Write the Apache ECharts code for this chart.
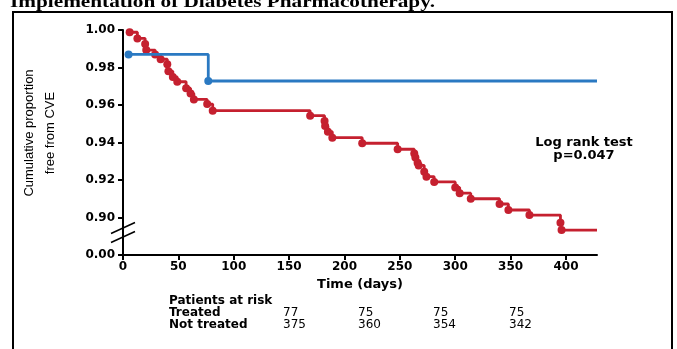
<!DOCTYPE html>
<html>
<head>
<meta charset="utf-8">
<script src="https://cdn.jsdelivr.net/npm/echarts@6/dist/echarts.min.js"></script>
<style>
  html, body { margin: 0; padding: 0; background: #fff; }
  #chart { width: 677px; height: 349px; }
</style>
</head>
<body>
<div id="chart"></div>
<script>
// Kaplan-Meier curves (days, proportion free from CVE)
const notTreatedDays = [6, 13, 20, 21, 29, 34, 40, 41, 45, 49, 57, 61, 64, 76, 81, 169, 182, 182.5, 185, 189, 216, 248, 263, 264, 266, 267, 272, 274, 281, 300, 304, 314, 340, 348, 367, 395, 396];
const notTreatedSurv = [0.9988, 0.9955, 0.9925, 0.9893, 0.987, 0.9844, 0.9817, 0.978, 0.975, 0.9724, 0.969, 0.9662, 0.963, 0.9605, 0.957, 0.9543, 0.9515, 0.9488, 0.9458, 0.9426, 0.9396, 0.9364, 0.9342, 0.932, 0.9292, 0.9278, 0.9244, 0.9218, 0.919, 0.916, 0.913, 0.91, 0.9072, 0.904, 0.9013, 0.8972, 0.8933];
const treatedDays = [5, 77];
const treatedSurv = [0.987, 0.9728];
const followUpEnd = 428;

const xTicks = [0, 50, 100, 150, 200, 250, 300, 350, 400];
const yTicks = [0.88, 0.90, 0.92, 0.94, 0.96, 0.98, 1.00];

const riskGroups = ['Treated', 'Not treated'];
const treatedAtRisk = [77, 75, 75, 75];
const notTreatedAtRisk = [375, 360, 354, 342];

const RED = '#c5202f';
const BLUE = '#2a79c2';

function curve(days, surv) {
  const pts = days.map((d, i) => [d, surv[i]]);
  pts.push({ value: [followUpEnd, surv[surv.length - 1]], symbol: 'none' });
  return pts;
}

const chart = echarts.init(document.getElementById('chart'));

const labelFont = { color: '#000', fontFamily: '"DejaVu Sans"', fontWeight: 'bold', fontSize: 12 };

chart.setOption({
  animation: false,
  grid: { left: 123, right: 80, top: 30, bottom: 94 },
  xAxis: {
    type: 'value',
    min: 0,
    max: followUpEnd,
    name: 'Time (days)',
    nameLocation: 'middle',
    nameGap: 23,
    nameTextStyle: { color: '#000', fontFamily: '"DejaVu Sans"', fontWeight: 'bold', fontSize: 13 },
    axisLine: { show: true, onZero: false, lineStyle: { color: '#000', width: 2 } },
    axisTick: { show: true, length: 5, customValues: xTicks, lineStyle: { color: '#000', width: 2 } },
    axisLabel: { ...labelFont, margin: 6, customValues: xTicks },
    splitLine: { show: false }
  },
  yAxis: {
    type: 'value',
    min: 0.88,
    max: 1.0,
    axisLine: { show: true, onZero: false, lineStyle: { color: '#000', width: 2 } },
    axisTick: { show: true, length: 5, customValues: yTicks, lineStyle: { color: '#000', width: 2 } },
    axisLabel: {
      ...labelFont,
      margin: 8,
      customValues: yTicks,
      formatter: v => (v < 0.89 ? '0.00' : v.toFixed(2))
    },
    splitLine: { show: false }
  },
  series: [
    {
      name: 'Not treated',
      type: 'line',
      step: 'end',
      data: curve(notTreatedDays, notTreatedSurv),
      symbol: 'circle',
      symbolSize: 8,
      lineStyle: { color: RED, width: 2.8 },
      itemStyle: { color: RED },
      z: 3
    },
    {
      name: 'Treated',
      type: 'line',
      step: 'end',
      data: curve(treatedDays, treatedSurv),
      symbol: 'circle',
      symbolSize: 8,
      lineStyle: { color: BLUE, width: 2.8 },
      itemStyle: { color: BLUE },
      z: 4
    }
  ]
});

// axis break marks, risk table, annotations
const axisX = chart.convertToPixel({ xAxisIndex: 0 }, 0);
const breakY = chart.convertToPixel({ yAxisIndex: 0 }, 0.892);
const cols = [283, 358, 433, 509];
const rowY = [313, 325];

const graphics = [
  { type: 'rect', shape: { x: 13, y: 12, width: 659, height: 400 }, style: { fill: 'none', stroke: '#000', lineWidth: 2 }, silent: true },
  {
    type: 'text', x: 10, y: 11, scaleX: 1.25,
    style: { text: 'Implementation of Diabetes Pharmacotherapy.', font: 'bold 17px "Liberation Serif"', fill: '#000', verticalAlign: 'bottom' }
  },
  { type: 'line', shape: { x1: axisX - 12, y1: breakY + 1, x2: axisX + 12, y2: breakY - 10 }, style: { stroke: '#000', lineWidth: 1.5 } },
  { type: 'line', shape: { x1: axisX - 12, y1: breakY + 10, x2: axisX + 12, y2: breakY - 1 }, style: { stroke: '#000', lineWidth: 1.5 } },
  {
    type: 'text', x: 39.5, y: 133, rotation: Math.PI / 2,
    style: { text: 'Cumulative proportion\nfree from CVE', font: '13px "Liberation Sans"', lineHeight: 21, fill: '#000', align: 'center', verticalAlign: 'middle' }
  },
  {
    type: 'text', x: 584, y: 149,
    style: { text: 'Log rank test\np=0.047', font: 'bold 13px "DejaVu Sans"', lineHeight: 13, fill: '#000', align: 'center', verticalAlign: 'middle' }
  },
  {
    type: 'text', x: 169, y: 301,
    style: { text: 'Patients at risk', font: 'bold 12px "DejaVu Sans"', fill: '#000', verticalAlign: 'middle' }
  }
];

riskGroups.forEach((g, r) => {
  graphics.push({ type: 'text', x: 169, y: rowY[r], style: { text: g, font: 'bold 12px "DejaVu Sans"', fill: '#000', verticalAlign: 'middle' } });
  const vals = r === 0 ? treatedAtRisk : notTreatedAtRisk;
  vals.forEach((n, c) => {
    graphics.push({ type: 'text', x: cols[c], y: rowY[r], style: { text: String(n), font: '12px "DejaVu Sans"', fill: '#000', verticalAlign: 'middle' } });
  });
});

chart.setOption({ graphic: graphics });
</script>
</body>
</html>
